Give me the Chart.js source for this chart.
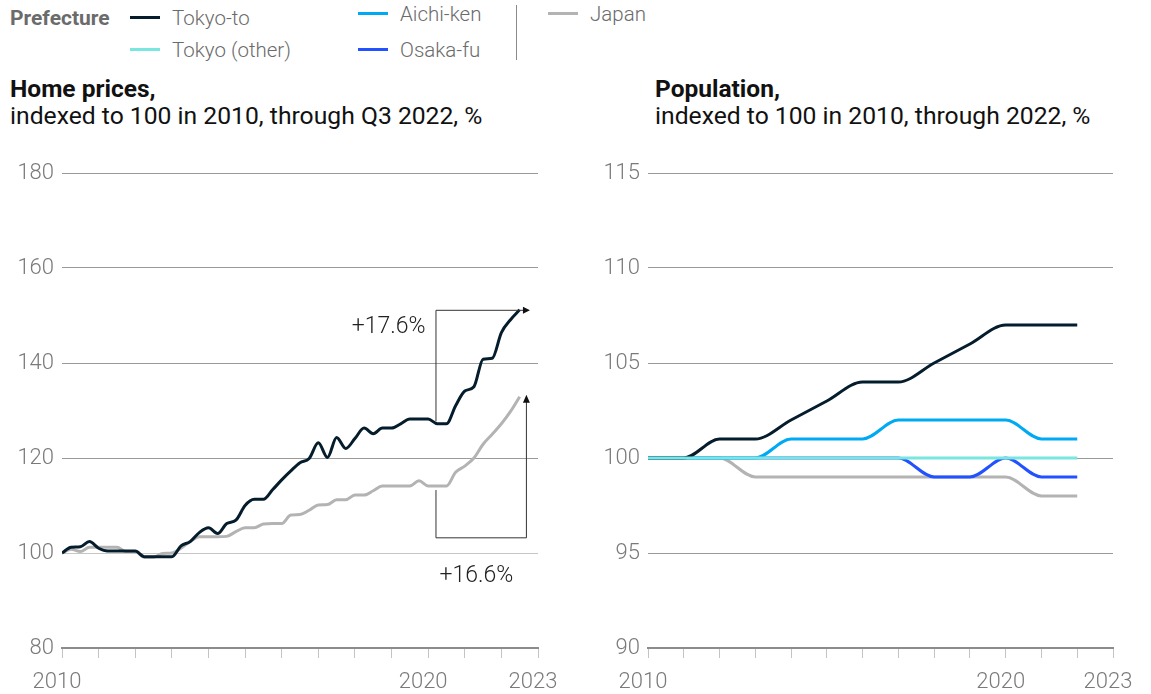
<!DOCTYPE html>
<html>
<head>
<meta charset="utf-8">
<script src="https://cdn.jsdelivr.net/npm/chart.js@4/dist/chart.umd.min.js"></script>
<style>
  html, body { margin: 0; padding: 0; background: #fff; }
  body { width: 1151px; height: 694px; position: relative; overflow: hidden; font-family: Roboto, "Liberation Sans", sans-serif; }
  .abs { position: absolute; white-space: nowrap; }
  .legend-head { left: 10px; top: 6px; font-size: 21px; font-weight: 700; color: #6b6b6b; line-height: 24px; }
  .key { font-size: 20.5px; color: #6b6b6b; font-weight: 300; line-height: 24px; }
  .swatch { position: absolute; width: 30px; height: 3px; }
  .sep { position: absolute; left: 516px; top: 5px; width: 1px; height: 55px; background: #8a8a8a; }
  .title { font-size: 24.5px; font-weight: 700; color: #111; line-height: 28px; }
  .sub { font-size: 24.7px; font-weight: 400; color: #111; line-height: 28px; }
  .panel { position: absolute; top: 150px; height: 544px; }
</style>
</head>
<body>
<div class="abs legend-head">Prefecture</div>
<div id="legend"></div>
<div class="sep"></div>

<div class="abs title" style="left:10px; top:75px;">Home prices,</div>
<div class="abs sub" style="left:10px; top:102px;">indexed to 100 in 2010, through Q3 2022, %</div>
<div class="abs title" style="left:655px; top:75px;">Population,</div>
<div class="abs sub" style="left:655px; top:102px;">indexed to 100 in 2010, through 2022, %</div>

<div class="panel" style="left:0; width:590px;"><canvas id="prices"></canvas></div>
<div class="panel" style="left:586px; width:565px;"><canvas id="population"></canvas></div>

<script>
// Home prices, quarterly from Q1 2010 to Q3 2022 (index, 2010 = 100)
const priceStartYear = 2010;
const tokyoPrices = [
  100.0, 101.2, 101.3, 102.4, 101.0, 100.4, 100.4, 100.4, 100.4, 99.2,
  99.2, 99.2, 99.2, 101.5, 102.4, 104.3, 105.3, 104.1, 106.2, 106.9,
  110.0, 111.3, 111.3, 113.3, 115.4, 117.3, 119.0, 119.9, 123.2, 120.1,
  124.3, 122.0, 124.1, 126.3, 125.1, 126.3, 126.3, 127.2, 128.2, 128.2,
  128.2, 127.2, 127.2, 131.0, 134.1, 135.0, 140.8, 141.0, 146.4, 149.1,
  151.2
];
const japanPrices = [
  100.0, 100.8, 100.3, 101.2, 101.2, 101.2, 101.2, 100.3, 100.3, 99.1,
  99.1, 99.9, 100.0, 101.0, 102.4, 103.4, 103.4, 103.4, 103.5, 104.5,
  105.3, 105.3, 106.1, 106.2, 106.2, 108.0, 108.1, 109.0, 110.1, 110.2,
  111.2, 111.2, 112.2, 112.2, 113.1, 114.1, 114.1, 114.1, 114.1, 115.2,
  114.1, 114.1, 114.1, 117.0, 118.3, 120.0, 122.9, 125.0, 127.2, 129.8,
  132.9
];

// Population, yearly 2010-2022 (index, 2010 = 100)
const popYears = [2010, 2011, 2012, 2013, 2014, 2015, 2016, 2017, 2018, 2019, 2020, 2021, 2022];
const popTokyo      = [100, 100, 101, 101, 102, 103, 104, 104, 105, 106, 107, 107, 107];
const popTokyoOther = [100, 100, 100, 100, 100, 100, 100, 100, 100, 100, 100, 100, 100];
const popAichi      = [100, 100, 100, 100, 101, 101, 101, 102, 102, 102, 102, 101, 101];
const popOsaka      = [100, 100, 100, 100, 100, 100, 100, 100, 99, 99, 100, 99, 99];
const popJapan      = [100, 100, 100, 99, 99, 99, 99, 99, 99, 99, 99, 98, 98];

const yearLabels = [2010, 2020, 2023];
const priceTicks = [80, 100, 120, 140, 160, 180];
const popTicks = [90, 95, 100, 105, 110, 115];

const COLORS = {
  tokyo: '#051c2c',
  tokyoOther: '#79e6e0',
  aichi: '#00a9f4',
  osaka: '#2251ff',
  japan: '#b3b3b3'
};

const legendItems = [
  { name: 'Tokyo-to', color: COLORS.tokyo, x: 130, y: 17 },
  { name: 'Tokyo (other)', color: COLORS.tokyoOther, x: 130, y: 49 },
  { name: 'Aichi-ken', color: COLORS.aichi, x: 358, y: 13 },
  { name: 'Osaka-fu', color: COLORS.osaka, x: 358, y: 49 },
  { name: 'Japan', color: COLORS.japan, x: 548, y: 13 }
];
const legendEl = document.getElementById('legend');
legendEl.innerHTML = legendItems.map(it => `
  <div class="swatch" style="left:${it.x}px; top:${it.y - 1}px; background:${it.color}"></div>
  <div class="abs key" style="left:${it.x + 42}px; top:${it.y - 11}px;">${it.name}</div>`).join('');

Chart.defaults.font.family = 'Roboto, "Liberation Sans", sans-serif';
Chart.defaults.animation = false;

function series(values, xs, color) {
  return {
    data: values.map((v, i) => ({ x: xs(i), y: v })),
    borderColor: color,
    borderWidth: 3,
    pointRadius: 0,
    fill: false,
    cubicInterpolationMode: 'monotone'
  };
}

function axes(yMin, yMax, yTickList, gridColor) {
  return {
    x: {
      type: 'linear', min: 2010, max: 2023,
      afterBuildTicks: s => { s.ticks = []; for (let y = 2010; y <= 2023; y++) s.ticks.push({ value: y }); },
      afterFit: s => { s.height = 46; },
      border: { display: true, color: '#8c8c8c', width: 2 },
      grid: { drawOnChartArea: false, drawTicks: true, tickLength: 10, color: '#c4c4c4', lineWidth: 1 },
      ticks: {
        padding: 11, labelOffset: -5, color: '#7a7a7a', maxRotation: 0, autoSkip: false,
        font: { size: 22, weight: 300 },
        callback: v => yearLabels.includes(v) ? String(v) : ''
      }
    },
    y: {
      min: yMin, max: yMax,
      afterBuildTicks: s => { s.ticks = yTickList.map(v => ({ value: v })); },
      afterFit: s => { s.width = 62; },
      border: { display: false },
      grid: { drawTicks: false, color: gridColor, lineWidth: 1 },
      ticks: { padding: 8, color: '#7a7a7a', font: { size: 22, weight: 300 } }
    }
  };
}

// bracket arrows with growth labels on the price panel
const growthNotes = {
  id: 'growthNotes',
  afterDatasetsDraw(chart) {
    const { ctx, scales: { x, y } } = chart;
    const last = tokyoPrices.length - 1;
    const baseX = x.getPixelForValue(2020.2);
    const endX = x.getPixelForValue(priceStartYear + last / 4 + 0.17);
    const topY = y.getPixelForValue(tokyoPrices[last]);
    const tokyoBase = y.getPixelForValue(127.7);
    const japanBase = y.getPixelForValue(114.1);
    const bottomY = y.getPixelForValue(103.3);
    const japanTip = y.getPixelForValue(japanPrices[last]);

    ctx.save();
    ctx.strokeStyle = '#333';
    ctx.fillStyle = '#111';
    ctx.lineWidth = 1;
    ctx.beginPath();
    ctx.moveTo(baseX + 0.5, tokyoBase);
    ctx.lineTo(baseX + 0.5, topY + 0.5);
    ctx.lineTo(endX, topY + 0.5);
    ctx.moveTo(baseX + 0.5, japanBase + 4);
    ctx.lineTo(baseX + 0.5, bottomY + 0.5);
    ctx.lineTo(endX + 0.5, bottomY + 0.5);
    ctx.lineTo(endX + 0.5, japanTip + 4);
    ctx.stroke();

    ctx.beginPath();
    ctx.moveTo(endX + 4, topY + 0.5);
    ctx.lineTo(endX - 3, topY - 3);
    ctx.lineTo(endX - 3, topY + 4);
    ctx.closePath();
    ctx.fill();
    ctx.beginPath();
    ctx.moveTo(endX + 0.5, japanTip - 2);
    ctx.lineTo(endX - 3, japanTip + 6);
    ctx.lineTo(endX + 4, japanTip + 6);
    ctx.closePath();
    ctx.fill();

    ctx.font = '300 23px Roboto, "Liberation Sans", sans-serif';
    ctx.fillStyle = '#222';
    ctx.textBaseline = 'middle';
    ctx.textAlign = 'right';
    ctx.fillText('+17.6%', baseX - 10, topY + 17);
    ctx.textAlign = 'left';
    ctx.fillText('+16.6%', baseX + 4, bottomY + 39);
    ctx.restore();
  }
};

new Chart(document.getElementById('prices'), {
  type: 'line',
  data: {
    datasets: [
      series(tokyoPrices, i => priceStartYear + i / 4, COLORS.tokyo),
      series(japanPrices, i => priceStartYear + i / 4, COLORS.japan)
    ]
  },
  options: {
    responsive: true,
    maintainAspectRatio: false,
    layout: { padding: { top: 23, right: 52, left: 0, bottom: 0 } },
    plugins: { legend: { display: false }, tooltip: { enabled: false } },
    scales: axes(80, 180, priceTicks, ctx => ctx.tick && ctx.tick.value === 100 ? '#c6c6c6' : '#9a9a9a')
  },
  plugins: [growthNotes]
});

new Chart(document.getElementById('population'), {
  type: 'line',
  data: {
    datasets: [
      series(popTokyoOther, i => popYears[i], COLORS.tokyoOther),
      series(popTokyo, i => popYears[i], COLORS.tokyo),
      series(popAichi, i => popYears[i], COLORS.aichi),
      series(popOsaka, i => popYears[i], COLORS.osaka),
      series(popJapan, i => popYears[i], COLORS.japan)
    ]
  },
  options: {
    responsive: true,
    maintainAspectRatio: false,
    layout: { padding: { top: 23, right: 38, left: 0, bottom: 0 } },
    plugins: { legend: { display: false }, tooltip: { enabled: false } },
    scales: axes(90, 115, popTicks, '#9a9a9a')
  }
});
</script>
</body>
</html>
